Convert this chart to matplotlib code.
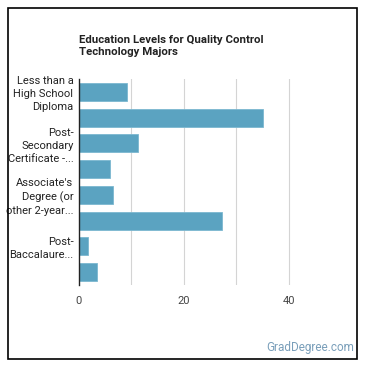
import matplotlib
matplotlib.use("Agg")
import matplotlib.pyplot as plt
from matplotlib.patches import Rectangle

plt.rcParams["font.family"] = ["Roboto", "DejaVu Sans"]

# Education levels (every other label is hidden in the original chart)
LEVELS = [
    "Less than a\nHigh School\nDiploma",
    "High School Diploma",
    "Post-\nSecondary\nCertificate -...",
    "Some College Courses",
    "Associate's\nDegree (or\nother 2-year...",
    "Bachelor's Degree",
    "Post-\nBaccalaure...",
    "Master's Degree",
]
SHOW_LABEL = [True, False, True, False, True, False, True, False]
PERCENTS = [9.2, 35.2, 11.3, 5.9, 6.5, 27.2, 1.8, 3.4]
X_TICKS = [0, 20, 40]
GRID_X = [10, 20, 30, 40]

BAR_COLOR = "#5ba3c1"
W = 370

fig = plt.figure(figsize=(3.7, 3.7), dpi=100)
ax = fig.add_axes([79 / W, 1 - 285 / W, 262 / W, 206 / W])

ypos = list(range(len(LEVELS)))
ax.barh(ypos, PERCENTS, height=0.7, color=BAR_COLOR, edgecolor="#7cb8d0", linewidth=0.6, zorder=3)

ax.set_xlim(0, 50)
ax.set_ylim(len(LEVELS) - 0.5, -0.5)
for gx in GRID_X:
    ax.axvline(gx, color="#d4d4d4", linewidth=0.8, zorder=1)

ax.set_xticks(X_TICKS)
ax.set_xticklabels([str(t) for t in X_TICKS], fontsize=8, color="#444444")
ax.set_yticks(ypos)
ax.set_yticklabels([lab if show else "" for lab, show in zip(LEVELS, SHOW_LABEL)],
                   fontsize=8, color="#222222", linespacing=1.38)
ax.tick_params(axis="both", length=0)
ax.tick_params(axis="y", pad=4)
ax.tick_params(axis="x", pad=8)

for side in ("top", "right", "bottom"):
    ax.spines[side].set_visible(False)
ax.spines["left"].set_color("#222222")
ax.spines["left"].set_linewidth(1.0)
ax.spines["left"].set_zorder(4)

fig.text(79 / W, 1 - 35 / W, "Education Levels for Quality Control\nTechnology Majors",
         ha="left", va="top", fontsize=8.2, fontweight="bold", color="#222222", linespacing=1.3)

fig.text(354 / W, 1 - 347 / W, "GradDegree.com", ha="right", va="center",
         fontsize=8.5, color="#7a9fba")

fig.patches.append(Rectangle((8 / W, 1 - 359 / W), 349 / W, 351 / W, transform=fig.transFigure,
                             fill=False, edgecolor="black", linewidth=1.2))

fig.savefig("out.png", dpi=100)
